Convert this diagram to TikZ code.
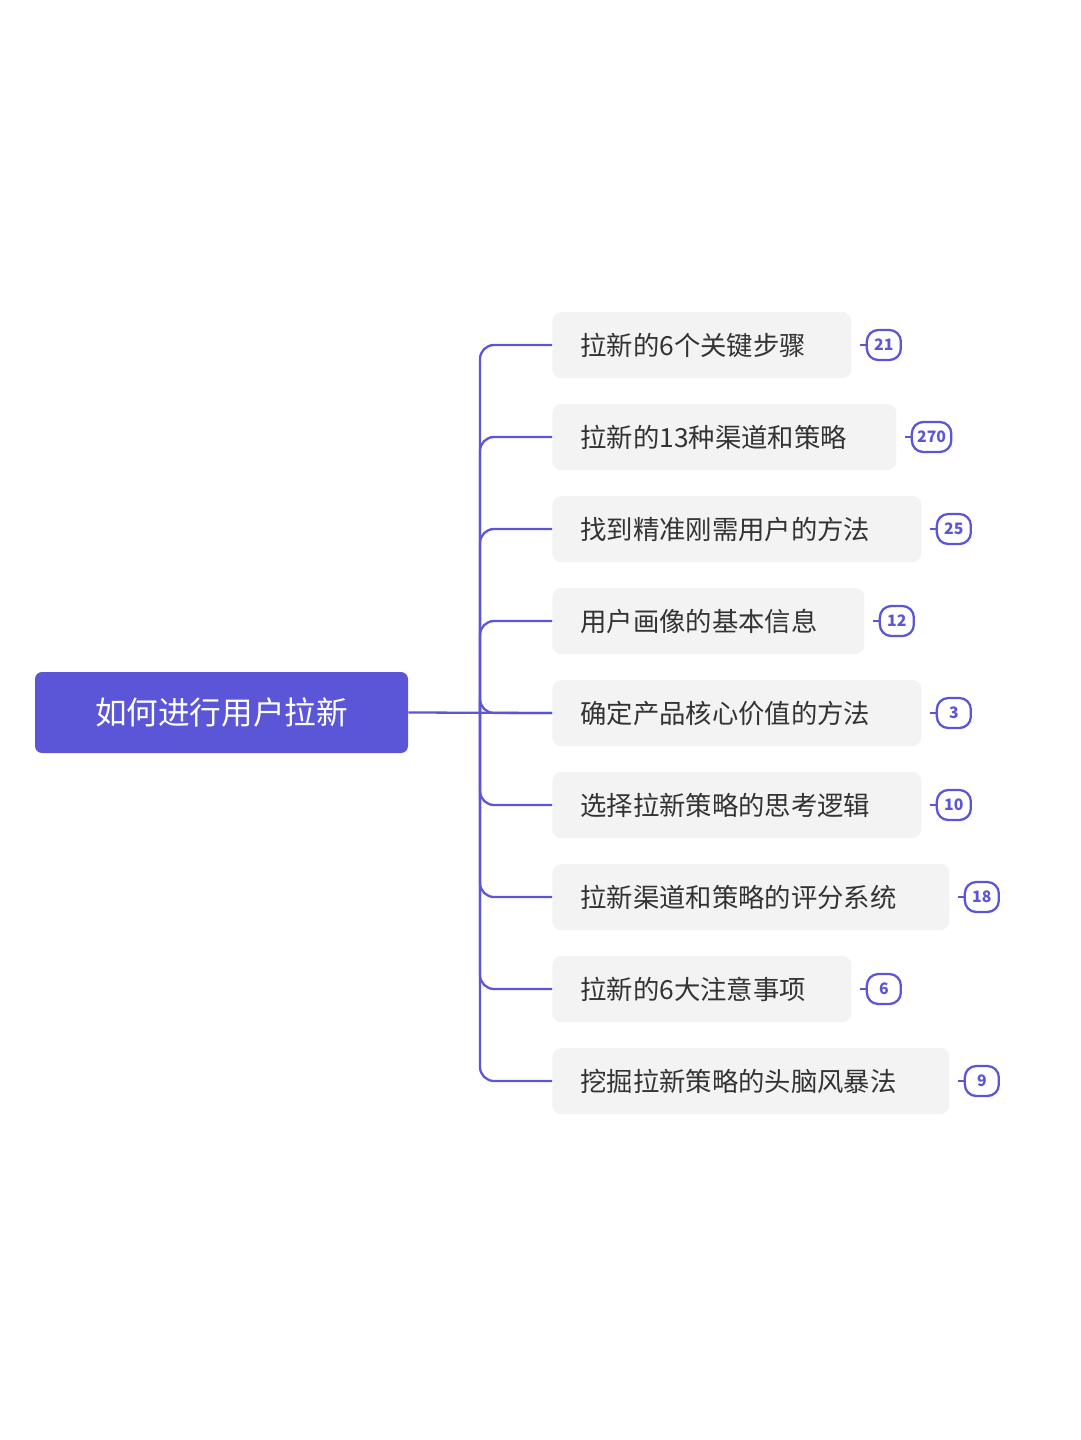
\documentclass[tikz,border=0pt]{standalone}
\usepackage{fontspec}
\setmainfont{Noto Sans CJK SC}
\definecolor{ind}{HTML}{5B55D8}
\definecolor{boxg}{HTML}{F3F3F4}
\definecolor{txt}{HTML}{333333}
\begin{document}
\begin{tikzpicture}[x=0.02cm,y=-0.02cm,
 root/.style={fill=ind,rounded corners=4pt,text=white,font=\fontsize{18}{20}\selectfont,minimum width=373*0.02cm,minimum height=81*0.02cm,inner sep=0},
 kid/.style={fill=boxg,rounded corners=5pt,text=txt,font=\fontsize{15}{17}\selectfont,minimum height=66*0.02cm,anchor=west,inner xsep=0.56cm,inner ysep=0},
 badge/.style={draw=ind,line width=1.3pt,rounded corners=6.5pt,text=ind,font=\fontsize{9}{10}\selectfont\bfseries,minimum height=30*0.02cm,minimum width=34*0.02cm,inner xsep=3pt,inner ysep=0,anchor=west},
 conn/.style={draw=ind,line width=1.3pt,rounded corners=8pt}]
\useasboundingbox (0,0) rectangle (1080,1440);
\node[root] (r) at (221.5,712.5) {如何进行用户拉新};
\coordinate (tr) at (480,712.5);
\foreach \i/\y/\t/\n/\w in {1/345/拉新的6个关键步骤/21/299,2/437/拉新的13种渠道和策略/270/344,3/529/找到精准刚需用户的方法/25/369,4/621/用户画像的基本信息/12/312,5/713/确定产品核心价值的方法/3/369,6/805/选择拉新策略的思考逻辑/10/369,7/897/拉新渠道和策略的评分系统/18/397,8/989/拉新的6大注意事项/6/299,9/1081/挖掘拉新策略的头脑风暴法/9/397}{
 \node[kid,text width=\w*0.02cm-1.12cm] (k\i) at (552,\y) {\t};
 \node[badge] (b\i) at ([xshift=14*0.02cm]k\i.east) {\n};
 \draw[ind,line width=1.3pt] ([xshift=-6*0.02cm]b\i.west) -- (b\i.west);
 \draw[conn] (tr) |- (k\i.west);
}
\draw[conn] (r.east) -- (k5.west);
\end{tikzpicture}
\end{document}
